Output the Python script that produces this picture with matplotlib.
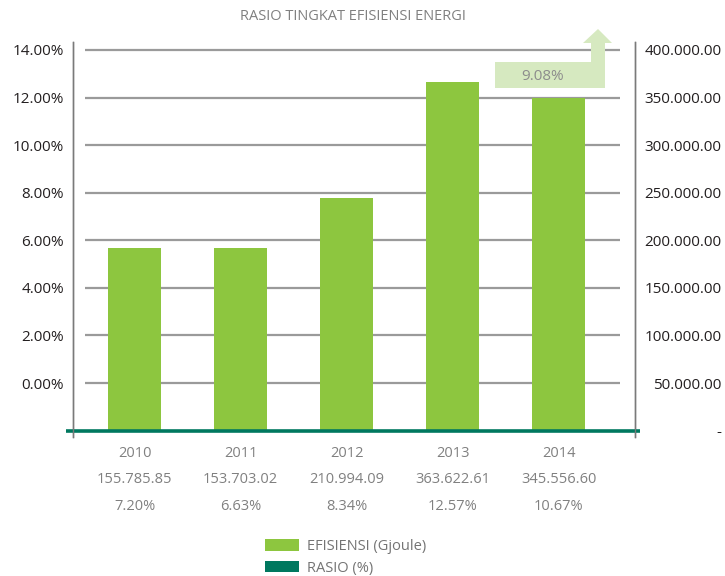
import matplotlib
matplotlib.use("Agg")
import matplotlib.pyplot as plt
from matplotlib.patches import Patch, Polygon
from matplotlib.ticker import FuncFormatter

plt.rcParams["font.family"] = ["Open Sans", "DejaVu Sans"]

TITLE = "RASIO TINGKAT EFISIENSI ENERGI"
years = ["2010", "2011", "2012", "2013", "2014"]
efisiensi_labels = ["155.785.85", "153.703.02", "210.994.09", "363.622.61", "345.556.60"]
rasio_labels = ["7.20%", "6.63%", "8.34%", "12.57%", "10.67%"]
# bar heights as drawn in the picture (Gjoule)
efisiensi_bars = [191900, 191900, 244400, 366300, 349150]
# ratio series, plotted on the Gjoule axis it sits on the baseline
rasio_values = [0.0720, 0.0663, 0.0834, 0.1257, 0.1067]
right_ticks = [0, 50000, 100000, 150000, 200000, 250000, 300000, 350000, 400000]
left_ticks = [0, 2, 4, 6, 8, 10, 12, 14]
callout_text = "9.08%"

BAR_GREEN = "#8dc63f"
TEAL = "#00785f"
GRID = "#9a9a9a"
TEXT_GRAY = "#808080"
DARK = "#231f20"

W, H = 725, 576
fig = plt.figure(figsize=(W / 100, H / 100), dpi=100)
ax = fig.add_axes([73 / W, 1 - 437 / H, (635 - 73) / W, (437 - 42) / H])
ax_l = ax.twinx()
ax_l.yaxis.tick_left()

x = list(range(len(years)))
ymin, ymax = -6620, 408300
ax.set_ylim(ymin, ymax)
ax.set_xlim(-0.58, 4.72)
ax_l.set_ylim(-2 + ymin / 25000, -2 + ymax / 25000)

ax.hlines([t for t in right_ticks if t > 0], -0.467, 4.58, color=GRID, lw=1.6, zorder=1)
ax.bar(x, efisiensi_bars, width=0.5, color=BAR_GREEN, zorder=2)
ax.plot([-0.646, 4.77], [rasio_values[0] * 0, rasio_values[-1] * 0], color=TEAL, lw=2.6,
        solid_capstyle="butt", clip_on=False, zorder=3)

for a in (ax, ax_l):
    for s in ("top", "bottom"):
        a.spines[s].set_visible(False)
    a.spines["left"].set_color("#7a7a7a")
    a.spines["right"].set_color("#7a7a7a")
    a.spines["left"].set_linewidth(1.0)
    a.spines["right"].set_linewidth(1.0)
    a.set_xticks([])

# right axis labels are right-aligned against the figure edge
ax.yaxis.tick_right()
ax.set_yticks(right_ticks)
ax.yaxis.set_major_formatter(FuncFormatter(
    lambda v, p: "-" if v == 0 else f"{v:,.2f}".replace(",", ".")))
ax.tick_params(axis="y", length=0, pad=62.5, labelsize=11, labelcolor=DARK)
for lbl in ax.get_yticklabels():
    lbl.set_horizontalalignment("right")

ax_l.set_yticks(left_ticks)
ax_l.yaxis.set_major_formatter(FuncFormatter(lambda v, p: f"{v:.2f}%"))
ax_l.tick_params(axis="y", length=0, pad=6.5, labelsize=11, labelcolor=DARK)

for i in x:
    ax.text(i, -0.042, years[i], transform=ax.get_xaxis_transform(), ha="center", va="center",
            fontsize=10.5, color=TEXT_GRAY)
    ax.text(i, -0.108, efisiensi_labels[i], transform=ax.get_xaxis_transform(), ha="center",
            va="center", fontsize=10.5, color=TEXT_GRAY)
    ax.text(i, -0.175, rasio_labels[i], transform=ax.get_xaxis_transform(), ha="center",
            va="center", fontsize=10.5, color=TEXT_GRAY)

fig.text(353 / W, 1 - 17 / H, TITLE, ha="center", va="center", fontsize=10.5, color=TEXT_GRAY)

# callout box with bent arrow
pts = [(495, 88), (495, 62), (591, 62), (591, 43), (583, 43), (598, 29),
       (612, 43), (605, 43), (605, 88)]
fig.patches.append(Polygon([(px / W, 1 - py / H) for px, py in pts], closed=True,
                           transform=fig.transFigure, facecolor="#d6e9c0", edgecolor="none"))
fig.text(543 / W, 1 - 76 / H, callout_text, ha="center", va="center", fontsize=11, color="#8c8c8c")

handles = [Patch(facecolor=BAR_GREEN, edgecolor="none"), Patch(facecolor=TEAL, edgecolor="none")]
fig.legend(handles, ["EFISIENSI (Gjoule)", "RASIO (%)"], loc="upper left",
           bbox_to_anchor=(252 / W, 1 - 526 / H), frameon=False, fontsize=10.5,
           handlelength=2.3, handleheight=0.8, labelspacing=0.45, handletextpad=0.6,
           labelcolor="#747474")

fig.savefig("out.png", dpi=100)
